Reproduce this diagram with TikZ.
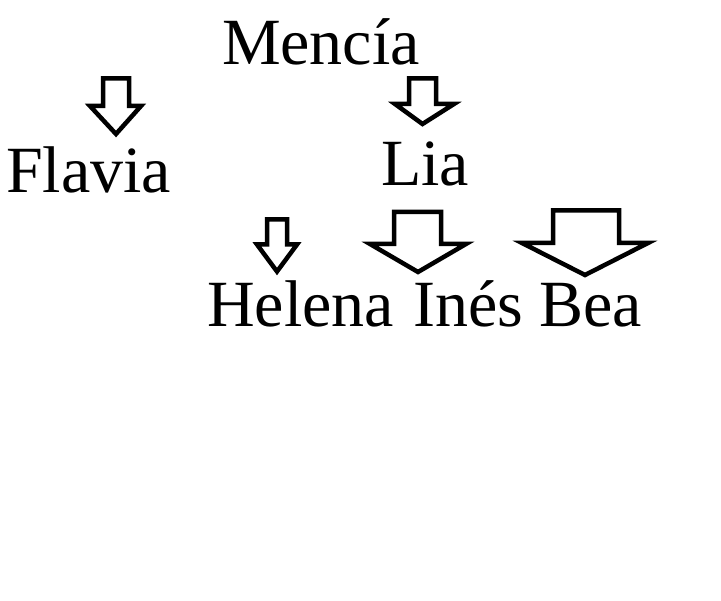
\documentclass[tikz,border=0pt]{standalone}
\usepackage{fontspec}
\setmainfont{Liberation Serif}
\begin{document}
\begin{tikzpicture}[x=1pt,y=-1pt,
  personname/.style={anchor=base west,inner sep=0pt,outer sep=0pt,font=\fontsize{66}{66}\selectfont},
  blockarrow/.style={draw=black,line width=4.5pt,line join=miter,fill=white}]
\useasboundingbox[fill=white] (0,0) rectangle (721,601);
% names
\node[personname] (mencia) at (222,64.5) {Mencía};
\node[personname] (flavia) at (6,192.7) {Flavia};
\node[personname] (lia) at (381,186) {Lia};
\node[personname] (helena) at (207.2,326.7) {Helena};
\node[personname] (ines) at (413.5,326.7) {Inés};
\node[personname] (bea) at (539,326.7) {Bea};
% block arrows
\draw[blockarrow] (103,78.5) -- (129,78.5) -- (129,106) -- (141,106) -- (116,134) -- (90,106) -- (103,106) -- cycle;
\draw[blockarrow] (409,78.5) -- (436,78.5) -- (436,104) -- (454,104) -- (422.5,124) -- (395,104) -- (409,104) -- cycle;
\draw[blockarrow] (267,219.5) -- (287,219.5) -- (287,244.5) -- (297,244.5) -- (277,271.5) -- (257,244.5) -- (267,244.5) -- cycle;
\draw[blockarrow] (394,212) -- (441,212) -- (441,244) -- (466,244) -- (418,272) -- (370,244) -- (394,244) -- cycle;
\draw[blockarrow] (553,210.5) -- (619,210.5) -- (619,243) -- (648,243) -- (585,275) -- (522,243) -- (553,243) -- cycle;
\end{tikzpicture}
\end{document}
